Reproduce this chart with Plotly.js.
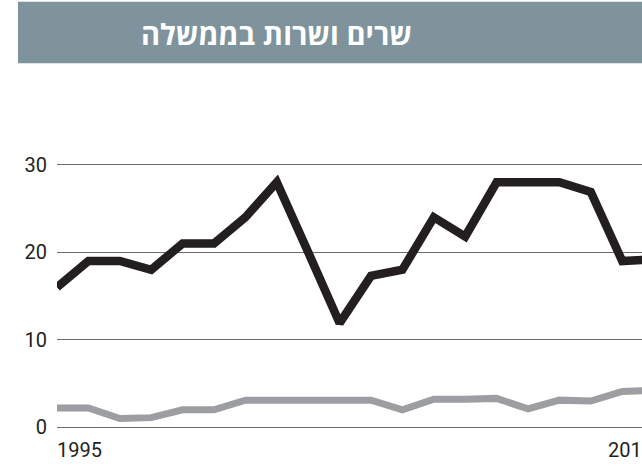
<!DOCTYPE html>
<html>
<head>
<meta charset="utf-8">
<script src="https://cdn.plot.ly/plotly-3.0.1.min.js"></script>
<style>
  html, body { margin: 0; padding: 0; background: #ffffff; overflow: hidden; }
  #chart { width: 642px; height: 466px; }
</style>
</head>
<body>
<div id="chart"></div>
<script>
// Data (one point per period, starting 1995)
const periods = [0, 1, 2, 3, 4, 5, 6, 7, 8, 9, 10, 11, 12, 13, 14, 15, 16, 17, 18, 19];
const ministersTotal = [16, 19, 19, 18, 21, 21, 24, 28, 20, 11.9, 17.3, 18, 24, 21.8, 28, 28, 28, 26.9, 19, 19.2];
const ministersWomen = [2.2, 2.2, 1.0, 1.1, 2.0, 2.0, 3.1, 3.1, 3.1, 3.1, 3.1, 2.0, 3.2, 3.2, 3.3, 2.1, 3.1, 3.0, 4.1, 4.2];
const xTickVals = [0, 17.55];
const xTickText = ['1995', '2015'];
const yTickVals = [0, 10, 20, 30];
const titleText = 'שרים ושרות בממשלה';

const FONT = 'Roboto, "Liberation Sans", Arial, sans-serif';

const traces = [
  {
    x: periods, y: ministersWomen, type: 'scatter', mode: 'lines',
    line: { color: '#9d9ea2', width: 7, shape: 'linear' },
    hoverinfo: 'skip', showlegend: false
  },
  {
    x: periods, y: ministersTotal, type: 'scatter', mode: 'lines',
    line: { color: '#231f20', width: 8.5, shape: 'linear' },
    hoverinfo: 'skip', showlegend: false
  }
];

const layout = {
  width: 642, height: 466,
  margin: { l: 57, r: 0, t: 163, b: 37, pad: 0 },
  paper_bgcolor: '#ffffff', plot_bgcolor: '#ffffff',
  showlegend: false,
  font: { family: FONT, size: 20, color: '#231f20' },
  xaxis: {
    range: [0, 18.63], showgrid: false, zeroline: false, showline: false,
    tickmode: 'array', tickvals: xTickVals, ticktext: xTickText,
    ticks: '', ticklabelposition: 'outside right', ticklabeloverflow: 'allow',
    ticklabelstandoff: 7,
    tickfont: { family: FONT, size: 20, color: '#231f20' }, fixedrange: true
  },
  yaxis: {
    range: [-0.2, 30.2], showgrid: true, gridcolor: '#6b6b6b', gridwidth: 1,
    zeroline: false, showline: false,
    tickmode: 'array', tickvals: yTickVals, ticks: '',
    ticklabelstandoff: 9,
    tickfont: { family: FONT, size: 20, color: '#231f20' }, fixedrange: true
  },
  shapes: [
    {
      type: 'rect', xref: 'paper', yref: 'paper', layer: 'below',
      x0: -0.0667, x1: 1.2, y0: 1.375, y1: 1.606,
      fillcolor: '#7e939c', line: { width: 0 }
    }
  ],
  annotations: [
    {
      xref: 'paper', yref: 'paper', x: 0.3744, y: 1.485,
      xanchor: 'center', yanchor: 'middle', showarrow: false,
      text: '<b>' + titleText + '</b>',
      font: { family: '"Open Sans", "Noto Sans", "DejaVu Sans", sans-serif', size: 29, color: '#ffffff' }
    }
  ]
};

Plotly.newPlot('chart', traces, layout, { staticPlot: true, displayModeBar: false });
</script>
</body>
</html>
